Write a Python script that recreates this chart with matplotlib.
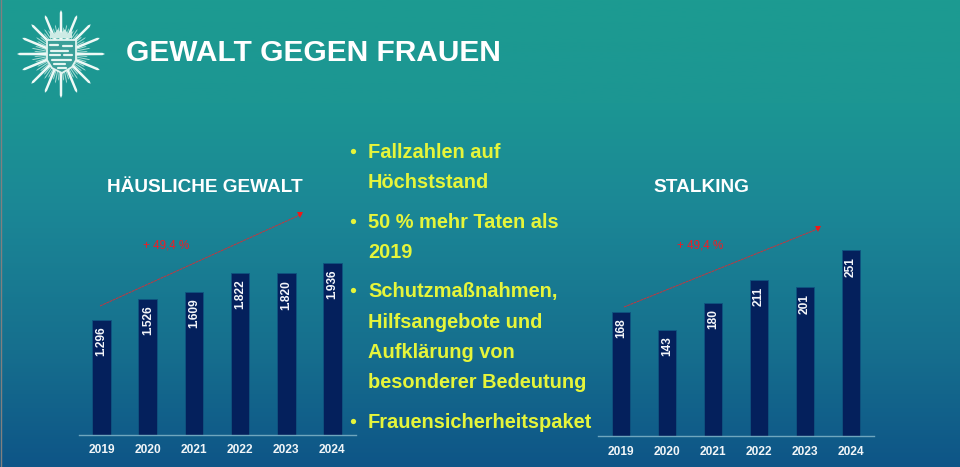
import numpy as np
import matplotlib
matplotlib.use("Agg")
import matplotlib.pyplot as plt
from matplotlib.colors import LinearSegmentedColormap
from matplotlib.patches import Polygon

years = ["2019", "2020", "2021", "2022", "2023", "2024"]
domestic = [1296, 1526, 1609, 1822, 1820, 1936]
domestic_labels = ["1.296", "1.526", "1.609", "1.822", "1.820", "1.936"]
stalking = [168, 143, 180, 211, 201, 251]
stalking_labels = ["168", "143", "180", "211", "201", "251"]
title = "GEWALT GEGEN FRAUEN"
left_title = "HÄUSLICHE GEWALT"
right_title = "STALKING"
growth = "+ 49,4 %"
bullets = [("Fallzahlen auf", 157.7, True), ("Höchststand", 188, False),
           ("50 % mehr Taten als", 227.5, True), ("2019", 258, False),
           ("Schutzmaßnahmen,", 297, True), ("Hilfsangebote und", 327.5, False),
           ("Aufklärung von", 358, False), ("besonderer Bedeutung", 388.5, False),
           ("Frauensicherheitspaket", 427.5, True)]

W, H = 960, 467
FONT = "Liberation Sans"
YEL = "#E6F53A"
BAR = "#04205C"
plt.rcParams["font.family"] = FONT
fig = plt.figure(figsize=(W/100, H/100), dpi=100)

bg = fig.add_axes([0, 0, 1, 1])
bg.set_xlim(0, W); bg.set_ylim(H, 0); bg.axis("off")
cmap = LinearSegmentedColormap.from_list("bg", [(0, "#1C9B91"), (0.22, "#1C9693"), (0.45, "#1B8796"),
                                                (0.75, "#166F8E"), (1, "#0E5587")])
bg.imshow(np.linspace(0, 1, 256)[:, None], cmap=cmap, extent=[0, W, H, 0], aspect="auto", zorder=0)
bg.axvline(0.5, color="#808080", lw=1, zorder=1)

# police star emblem
cx, cy = 61, 54
def ray(a, r, w, color, alpha=1.0):
    t = np.deg2rad(a)
    d = np.array([np.cos(t), np.sin(t)]); n = np.array([-d[1], d[0]])
    c = np.array([cx, cy])
    bg.add_patch(Polygon([c + n*w, c + d*r*0.94 + n*w*0.9, c + d*r, c + d*r*0.94 - n*w*0.9, c - n*w],
                         fc=color, ec="none", alpha=alpha, zorder=2))
for k in range(64):
    a = k * 360 / 64
    if k % 4:
        ray(a, 30 - 3 * (k % 2), 0.55, "#BFE6DF", 0.85)
for k in range(16):
    a = -90 + k * 22.5
    ray(a, 44 if k % 4 == 0 else 42, 1.35, "#EEF9F6")
shield = Polygon([(47, 40), (76, 40), (76, 60), (72, 67), (62, 73), (52, 68), (47, 60)],
                 fc="#3B9F99", ec="#E2F4F0", lw=1.3, zorder=3)
bg.add_patch(shield)
for y0, x0, x1 in [(45, 50, 58), (46, 63, 72), (51, 51, 68), (55, 50, 60), (55, 64, 72),
                   (60, 52, 71), (64, 54, 65), (68, 58, 66)]:
    bg.plot([x0, x1], [y0, y0], color="#E6F6F2", lw=1.6, zorder=4, solid_capstyle="round")
bg.add_patch(Polygon([(50, 38), (50, 31), (54, 34), (58, 29), (61, 33), (65, 29), (68, 34), (72, 31), (72, 38)],
                     fc="#CDEBE5", ec="none", zorder=3))

bg.text(126, 61, title, color="white", fontsize=21.5, fontweight="bold", va="baseline", ha="left", zorder=5)
bg.text(204.5, 191.5, left_title, color="white", fontsize=13.7, fontweight="bold", va="baseline", ha="center", zorder=5)
bg.text(701, 191.5, right_title, color="white", fontsize=13.7, fontweight="bold", va="baseline", ha="center", zorder=5)
for txt, y, dot in bullets:
    bg.text(368, y, txt, color=YEL, fontsize=14.4, fontweight="bold", va="baseline", ha="left", zorder=5)
    if dot:
        bg.plot([353], [y - 7], "o", color=YEL, ms=3.8, mew=0, zorder=5)

def bars(rect, vals, labels, ymax):
    ax = fig.add_axes(rect)
    ax.patch.set_alpha(0)
    x = np.arange(len(vals))
    ax.bar(x, vals, width=0.405, color=BAR, edgecolor="#0F5480", lw=0.6, zorder=2)
    ax.set_xlim(-0.5, 5.5); ax.set_ylim(0, ymax)
    ax.set_xticks(x, years, fontweight="bold")
    ax.tick_params(axis="x", length=0, colors="#F2F6F8", labelsize=8.6, pad=7)
    ax.set_yticks([])
    for s in ("top", "left", "right"):
        ax.spines[s].set_visible(False)
    ax.spines["bottom"].set_color("#6FA6BE"); ax.spines["bottom"].set_linewidth(1)
    for xi, v, lab in zip(x, vals, labels):
        ax.text(xi, v - ymax*0.032, lab, rotation=90, color="#F4F6FA", fontsize=8.6, fontweight="bold",
                ha="center", va="top", zorder=3)
    return ax

def rect(x0, x1, y0, y1):
    return [x0/W, 1 - y1/H, (x1 - x0)/W, (y1 - y0)/H]

# px per unit: left 0.0885, right 0.74
bars(rect(78.5, 355.5, 234.5, 434.5), domestic, domestic_labels, 200/0.0885)
bars(rect(598, 874, 236, 436), stalking, stalking_labels, 200/0.74)

RED = "#F01C24"
for (x0, y0, x1, y1) in [(100, 306, 302, 214), (624, 307, 820, 228)]:
    bg.plot([x0, x1], [y0, y1], color="#C8343C", lw=0.7, ls=(0, (3, 0.6)), zorder=6)
    bg.plot([x1 - 2], [y1 + 1], "v", color="#F01818", ms=4.5, mew=0, zorder=6)
bg.text(166, 245, growth, color=RED, fontsize=8.4, ha="center", va="center", zorder=6)
bg.text(700.5, 246, growth, color=RED, fontsize=8.4, ha="center", va="center", zorder=6)

fig.savefig("out.png", dpi=100)
